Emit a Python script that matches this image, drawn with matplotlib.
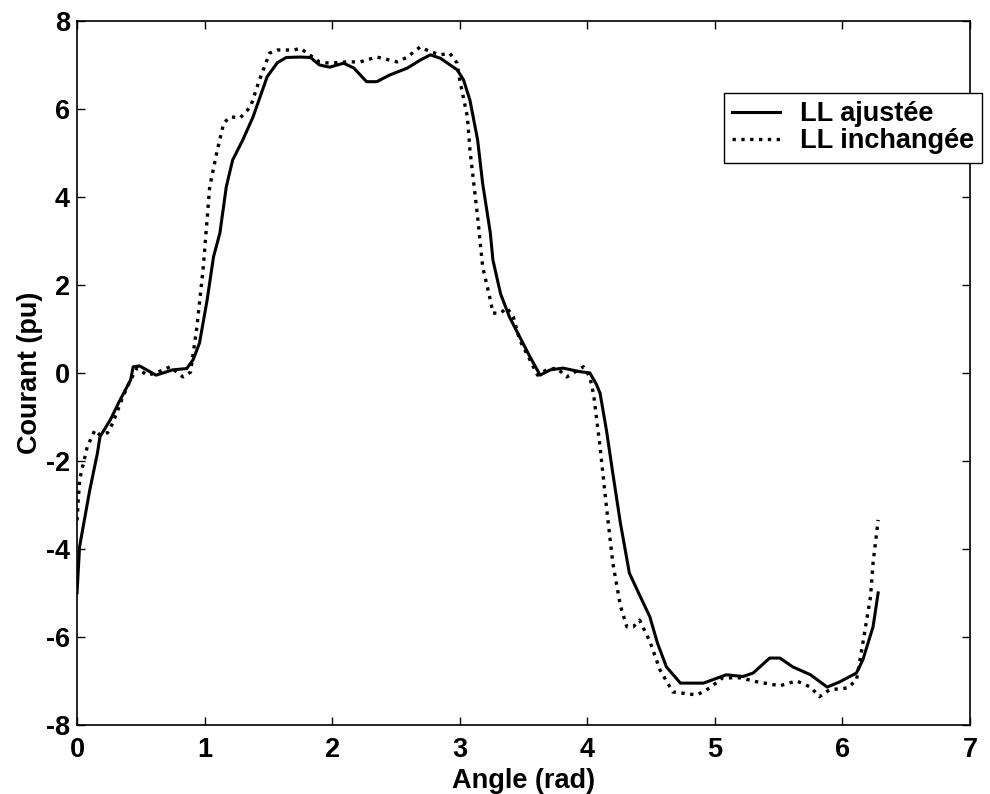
import matplotlib
matplotlib.use("Agg")
import matplotlib.pyplot as plt

plt.rcParams['font.family'] = ['Liberation Sans', 'DejaVu Sans']
plt.rcParams['font.weight'] = 'bold'
plt.rcParams['axes.unicode_minus'] = False

# LL ajustée (solid)
x_ajustee = [0.0, 0.02, 0.10, 0.16, 0.18, 0.26, 0.34, 0.42, 0.44, 0.49, 0.62, 0.75, 0.86, 0.91,
             0.96, 1.02, 1.07, 1.12, 1.17, 1.22, 1.30, 1.38, 1.49, 1.57, 1.64, 1.75, 1.83, 1.90,
             1.98, 2.09, 2.17, 2.27, 2.35, 2.45, 2.59, 2.69, 2.77, 2.85, 2.98, 3.03, 3.08, 3.14,
             3.18, 3.24, 3.26, 3.32, 3.39, 3.47, 3.55, 3.63, 3.71, 3.81, 3.94, 4.02, 4.07, 4.10,
             4.15, 4.20, 4.26, 4.33, 4.41, 4.49, 4.55, 4.62, 4.73, 4.91, 5.09, 5.22, 5.30, 5.43,
             5.51, 5.61, 5.75, 5.88, 5.98, 6.11, 6.16, 6.24, 6.28]
y_ajustee = [-5.0, -3.95, -2.66, -1.82, -1.45, -1.07, -0.6, -0.16, 0.14, 0.16, -0.05, 0.07, 0.10, 0.30,
             0.68, 1.66, 2.64, 3.18, 4.23, 4.84, 5.30, 5.82, 6.73, 7.05, 7.17, 7.18, 7.17, 7.0,
             6.95, 7.04, 6.93, 6.62, 6.62, 6.77, 6.93, 7.11, 7.23, 7.15, 6.89, 6.66, 6.2, 5.3,
             4.3, 3.18, 2.57, 1.8, 1.27, 0.82, 0.37, -0.05, 0.07, 0.11, 0.03, 0.0, -0.25, -0.46,
             -1.3, -2.28, -3.42, -4.55, -5.05, -5.54, -6.14, -6.68, -7.05, -7.05, -6.86, -6.9, -6.82, -6.48,
             -6.48, -6.68, -6.86, -7.14, -7.02, -6.82, -6.52, -5.77, -5.0]

# LL inchangée (dotted)
x_inchangee = [0.0, 0.02, 0.08, 0.14, 0.18, 0.24, 0.28, 0.36, 0.42, 0.47, 0.55, 0.62, 0.73, 0.83,
               0.89, 0.94, 0.99, 1.04, 1.10, 1.15, 1.20, 1.28, 1.36, 1.43, 1.51, 1.57, 1.70, 1.75,
               1.90, 1.98, 2.11, 2.22, 2.35, 2.51, 2.59, 2.69, 2.77, 2.85, 2.92, 2.98, 3.00, 3.06,
               3.08, 3.14, 3.18, 3.24, 3.26, 3.32, 3.37, 3.42, 3.47, 3.55, 3.61, 3.68, 3.76, 3.84,
               3.97, 4.02, 4.05, 4.10, 4.15, 4.20, 4.26, 4.31, 4.36, 4.41, 4.49, 4.57, 4.67, 4.86,
               4.96, 5.06, 5.20, 5.33, 5.51, 5.64, 5.75, 5.82, 5.90, 6.04, 6.11, 6.16, 6.22, 6.24, 6.28]
y_inchangee = [-3.35, -2.43, -1.68, -1.3, -1.41, -1.36, -1.14, -0.54, -0.16, 0.11, -0.05, 0.0, 0.14, -0.09,
               0.02, 1.05, 2.41, 4.23, 5.07, 5.68, 5.82, 5.8, 6.05, 6.66, 7.27, 7.34, 7.34, 7.38,
               7.07, 7.04, 7.07, 7.07, 7.18, 7.07, 7.18, 7.41, 7.3, 7.23, 7.27, 7.04, 6.66, 5.82,
               5.07, 3.55, 2.41, 1.66, 1.36, 1.36, 1.48, 1.27, 0.75, 0.3, -0.05, 0.07, 0.11, -0.09,
               0.14, -0.09, -0.5, -1.68, -3.04, -4.32, -5.3, -5.77, -5.77, -5.62, -6.1, -6.75, -7.25, -7.32,
               -7.16, -6.93, -6.93, -7.02, -7.11, -7.0, -7.14, -7.36, -7.2, -7.16, -6.98, -6.14, -5.09, -4.32, -3.34]

fig = plt.figure(figsize=(9.9, 7.94), dpi=100)
ax = fig.add_axes([0.0778, 0.087, 0.902, 0.8866])

ax.plot(x_ajustee, y_ajustee, color='black', linewidth=2.2, linestyle='-', label='LL ajustée')
ax.plot(x_inchangee, y_inchangee, color='black', linewidth=2.4, linestyle=':', label='LL inchangée')

ax.set_xlim(0, 7)
ax.set_ylim(-8, 8)
ax.set_xticks(range(0, 8))
ax.set_yticks(range(-8, 9, 2))
ax.tick_params(direction='in', length=6, width=1, top=True, right=True, labelsize=19.5, pad=5)
ax.tick_params(axis='x', pad=9)
for sp in ax.spines.values():
    sp.set_linewidth(1.2)

ax.set_xlabel('Angle (rad)', fontsize=19.5, fontweight='bold', labelpad=3)
ax.set_ylabel('Courant (pu)', fontsize=19.5, fontweight='bold', labelpad=2)

leg = ax.legend(loc='upper left', bbox_to_anchor=(0.7245, 0.8977), borderaxespad=0,
                fancybox=False, edgecolor='black', framealpha=1, fontsize=19.5,
                handlelength=1.75, handletextpad=0.75, borderpad=0.3, labelspacing=0.05)
leg.get_frame().set_linewidth(1.0)

fig.savefig('out.png', dpi=100)
